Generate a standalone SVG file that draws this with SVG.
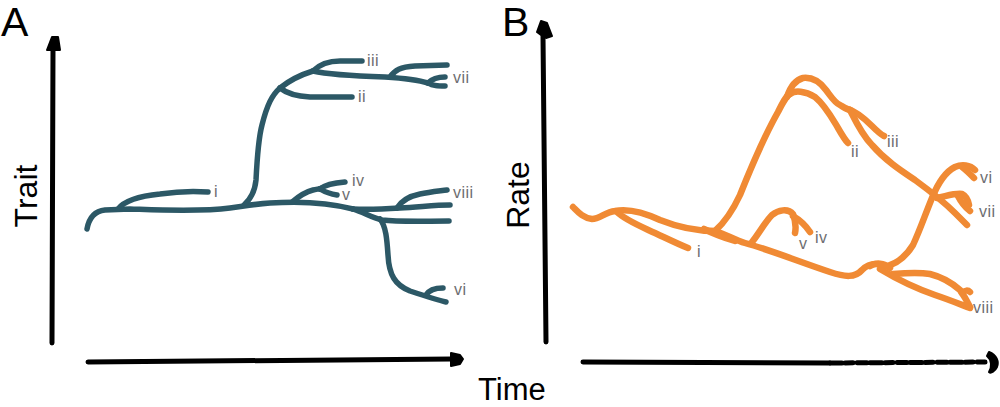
<svg xmlns="http://www.w3.org/2000/svg" width="1000" height="407" viewBox="0 0 1000 407">
<style>
.ax{fill:none;stroke:#000;stroke-width:5;stroke-linecap:round;stroke-linejoin:round}
.ah{fill:#000;stroke:#000;stroke-width:2;stroke-linejoin:round}
.big{font-family:"Liberation Sans",Arial,sans-serif;fill:#000}
.lab{font-family:"Liberation Sans",Arial,sans-serif;font-size:16px;fill:#6d6e71;letter-spacing:0.5px}
.ta path{fill:none;stroke:#2c5866;stroke-width:5.5;stroke-linecap:round;stroke-linejoin:round}
.tb path{fill:none;stroke:#f08a34;stroke-width:6.5;stroke-linecap:round;stroke-linejoin:round}
</style>
<rect width="1000" height="407" fill="#fff"/>

<g id="panelA">
  <text class="big" x="1" y="36" font-size="41">A</text>
  <path class="ax" d="M53,48 L52,343"/>
  <path class="ah" d="M47,50 L52,37 L58,37 L60,50 Z"/>
  <path class="ax" d="M88,362 L452,359"/>
  <path class="ah" d="M451,353 L460,355 L463,359 L460,364 L451,366 Z"/>
  <text class="big" font-size="32" text-anchor="middle" transform="translate(37,196) rotate(-90)">Trait</text>
  <text class="big" x="478" y="400" font-size="31">Time</text>

  <g id="treeA" class="ta">
    <path d="M87,229 C89,218 95,211 105,210 L130,209 C160,210 200,212 230,208 C245,206 255,204 270,203 C300,201 330,203 353,209"/>
    <path d="M353,209 C370,210 385,209 400,208 C420,207 435,205 450,205"/>
    <path d="M397,208 C402,200 410,196 420,194 C430,192 440,191 447,190"/>
    <path d="M353,209 C365,213 372,218 382,220 C400,222 425,221 449,221"/>
    <path d="M380,219 C386,226 387,240 388,255 C389,275 395,285 410,291 C425,296 437,300 446,302"/>
    <path d="M426,295 C429,290 435,288 443,288"/>
    <path d="M118,209 C125,200 140,196 160,194 C180,191 195,191 208,192"/>
    <path d="M244,205 C252,198 255,190 256,180 C257,160 258,140 262,125 C267,105 272,95 280,88"/>
    <path d="M280,88 C285,92 292,96 310,97 L352,97"/>
    <path d="M280,88 C290,80 300,75 313,71"/>
    <path d="M313,71 C320,64 328,61 340,61 L362,61"/>
    <path d="M313,71 C330,75 355,76 385,77 C400,78 415,79 428,83"/>
    <path d="M390,77 C395,70 400,67 415,66 L447,65"/>
    <path d="M428,83 C433,78 438,77 445,77"/>
    <path d="M428,83 C433,86 438,86 445,86"/>
    <path d="M292,202 C298,197 305,192 313,190 C317,189 320,189 322,188"/>
    <path d="M320,189 C325,185 332,183 345,182"/>
    <path d="M320,189 C325,192 330,194 337,195"/>
  </g>

  <g id="labelsA">
    <text class="lab" x="214" y="197">i</text>
    <text class="lab" x="358" y="102">ii</text>
    <text class="lab" x="367" y="66">iii</text>
    <text class="lab" x="453" y="83">vii</text>
    <text class="lab" x="352" y="186">iv</text>
    <text class="lab" x="342" y="200">v</text>
    <text class="lab" x="453" y="198">viii</text>
    <text class="lab" x="454" y="295">vi</text>
  </g>
</g>

<g id="panelB">
  <text class="big" x="502" y="36" font-size="41">B</text>
  <path class="ax" d="M543,36 L546,342"/>
  <path class="ah" d="M537,32 L541,21 L547,23 L552,36 L546,38 L541,35 Z"/>
  <path class="ax" d="M583,362 L830,363"/>
  <path class="ax" d="M830,363 L985,362" stroke-dasharray="12 3 8 4 10 3"/>
  <path class="ah" d="M989,352 C997,355 999,362 997,367 C995,371 991,374 989,372 C992,367 992,360 987,356 Z"/>
  <text class="big" font-size="32" text-anchor="middle" transform="translate(529,195) rotate(-90)">Rate</text>

  <g id="treeB" class="tb">
    <path d="M573,207 C578,212 583,218 592,219 C600,219 605,212 615,211 C630,208 645,213 660,220 C680,228 695,231 715,231 C725,234 735,240 745,243 C770,250 800,262 830,272 C845,277 855,278 862,270 C868,264 875,262 885,266"/>
    <path d="M617,212 C625,220 640,226 655,233 C668,239 678,244 688,248"/>
    <path d="M704,229 C712,233 722,237 735,241" stroke-width="10"/>
    <path d="M715,231 C725,222 733,210 740,195 C750,170 765,135 778,112 C783,102 786,96 790,94"/>
    <path d="M790,94 C795,90 805,91 815,97 C825,105 832,118 838,128 C842,135 845,140 848,143"/>
    <path d="M787,97 C790,88 795,80 803,78 C812,77 820,82 826,90 C832,98 835,103 840,105 C845,108 848,110 850,110" stroke-width="5"/>
    <path d="M848,109 C858,112 866,120 872,126 C877,131 880,134 884,136" stroke-width="5"/>
    <path d="M850,110 C856,122 862,135 872,145 C885,160 900,170 915,180 C930,191 945,203 955,213 C960,218 964,222 967,225" stroke-width="5"/>
    <path d="M752,242 C758,235 765,222 772,215 C778,210 788,208 793,214 C796,222 796,228 795,233"/>
    <path d="M793,216 C800,220 806,226 810,232"/>
    <path d="M883,267 C895,265 905,258 913,245 C920,230 925,215 932,198 C938,183 945,172 955,167 C962,164 970,165 975,170" stroke-width="8"/>
    <path d="M962,167 C966,170 970,174 974,178"/>
    <path d="M937,198 C947,196 955,193 962,194 C966,196 968,200 969,205"/>
    <path d="M958,196 C961,202 965,207 970,211"/>
    <path d="M880,269 C895,278 915,288 935,295 C950,300 962,305 970,308"/>
    <path d="M893,274 C905,273 918,272 930,274 C942,277 952,283 960,290 C965,297 968,303 970,307" stroke-width="5"/>
    <path d="M962,293 C965,290 968,290 970,292" stroke-width="4"/>
    <path d="M870,266 C876,262 884,263 890,268" stroke-width="11"/>
  </g>

  <g id="labelsB">
    <text class="lab" x="697" y="257">i</text>
    <text class="lab" x="851" y="157">ii</text>
    <text class="lab" x="887" y="147">iii</text>
    <text class="lab" x="799" y="249">v</text>
    <text class="lab" x="815" y="243">iv</text>
    <text class="lab" x="980" y="183">vi</text>
    <text class="lab" x="979" y="217">vii</text>
    <text class="lab" x="973" y="313">viii</text>
  </g>
</g>
</svg>
